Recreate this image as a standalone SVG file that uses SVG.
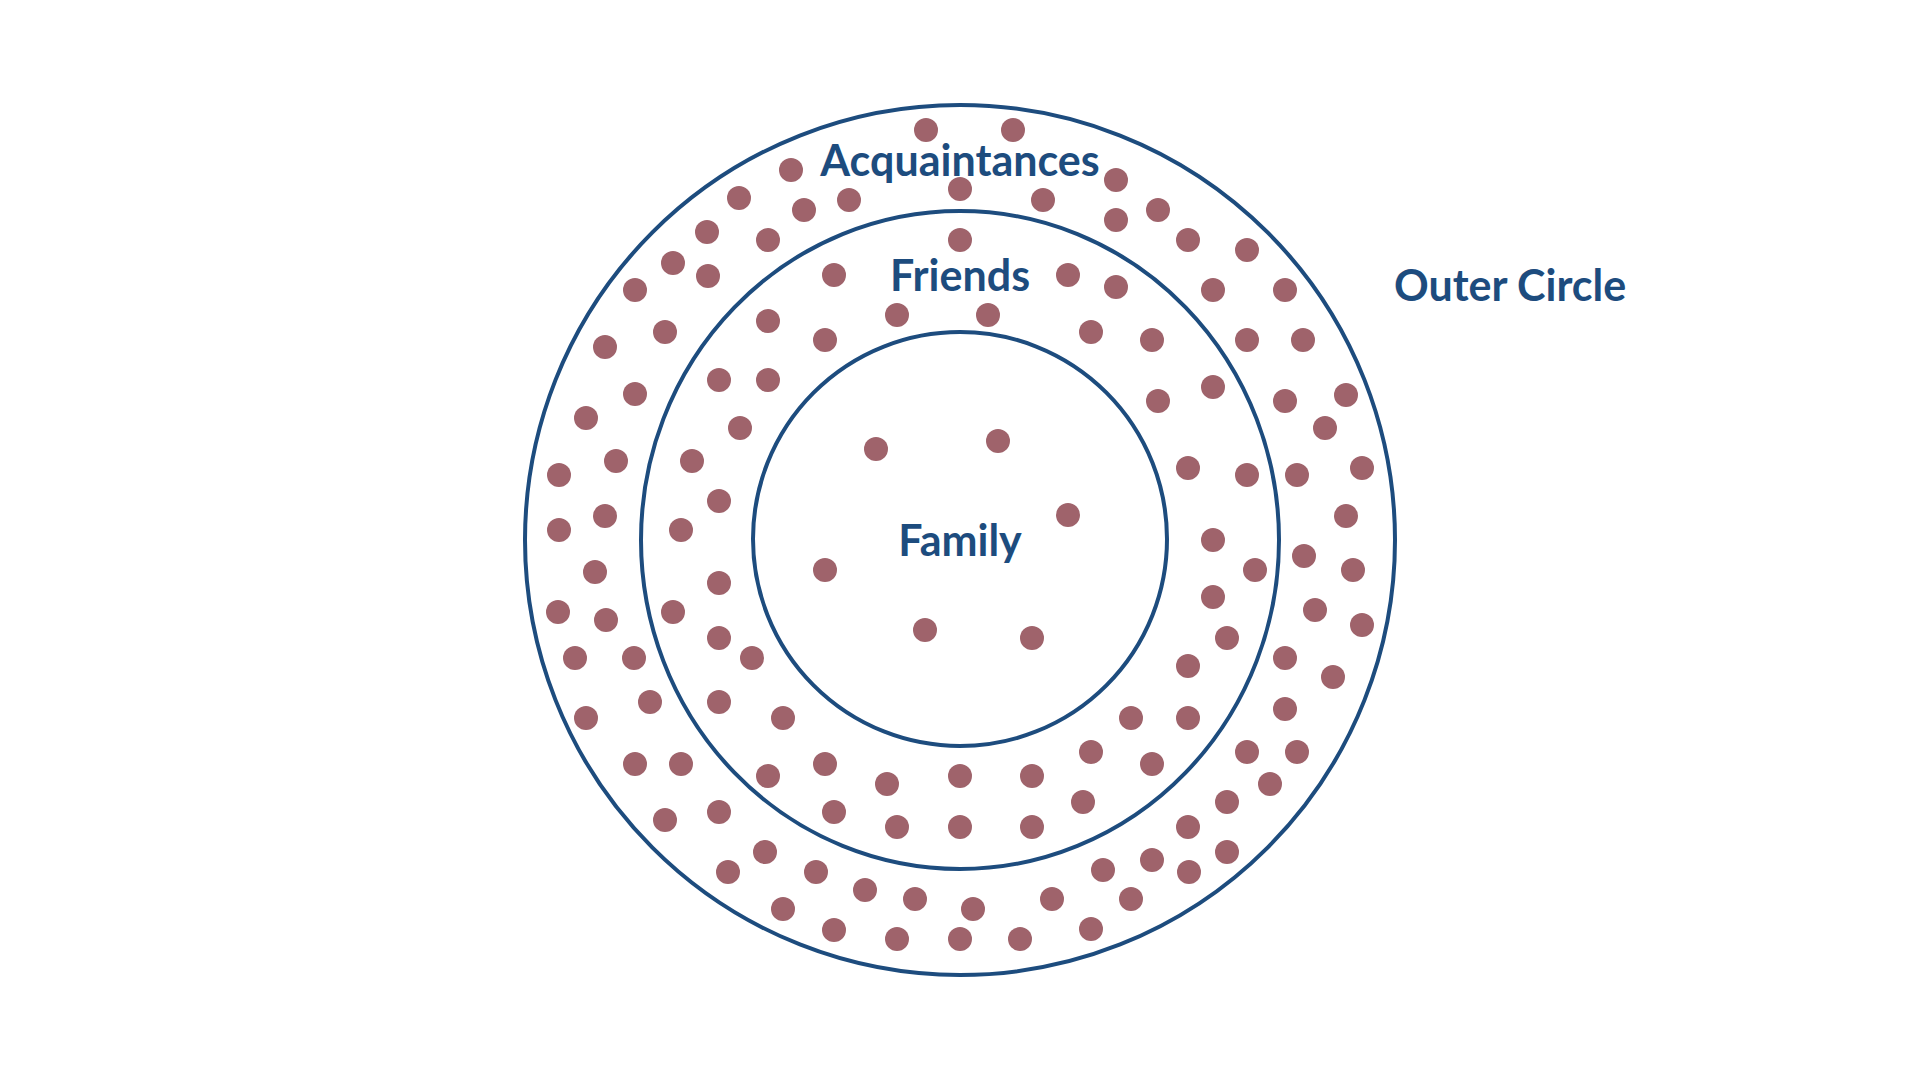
<svg xmlns="http://www.w3.org/2000/svg" width="1920" height="1080" viewBox="0 0 1920 1080">
<style>
.ring{fill:none;stroke:#1d4c7e;stroke-width:4}
.lbl{font-family:Lato,"Open Sans","Liberation Sans",sans-serif;font-weight:700;font-size:43px;fill:#1d4c7e}
.mid{text-anchor:middle}
.d circle{fill:#9f636b}
</style>
<rect width="1920" height="1080" fill="#ffffff"/>
<g id="outer-circle">
<text class="lbl" x="1394" y="301">Outer Circle</text>
</g>
<g id="acquaintances">
<circle class="ring" cx="960" cy="540" r="435"/>
<text class="lbl mid" x="960" y="176">Acquaintances</text>
<g class="d">
<circle cx="791" cy="170" r="12"/><circle cx="739" cy="198" r="12"/><circle cx="804" cy="210" r="12"/><circle cx="707" cy="232" r="12"/>
<circle cx="768" cy="240" r="12"/><circle cx="673" cy="263" r="12"/><circle cx="708" cy="276" r="12"/><circle cx="635" cy="290" r="12"/>
<circle cx="665" cy="332" r="12"/><circle cx="605" cy="347" r="12"/><circle cx="635" cy="394" r="12"/><circle cx="586" cy="418" r="12"/>
<circle cx="616" cy="461" r="12"/><circle cx="559" cy="475" r="12"/><circle cx="605" cy="516" r="12"/><circle cx="559" cy="530" r="12"/>
<circle cx="595" cy="572" r="12"/><circle cx="558" cy="612" r="12"/><circle cx="606" cy="620" r="12"/><circle cx="575" cy="658" r="12"/>
<circle cx="634" cy="658" r="12"/><circle cx="586" cy="718" r="12"/><circle cx="650" cy="702" r="12"/><circle cx="635" cy="764" r="12"/>
<circle cx="681" cy="764" r="12"/><circle cx="665" cy="820" r="12"/><circle cx="719" cy="812" r="12"/><circle cx="765" cy="852" r="12"/>
<circle cx="728" cy="872" r="12"/><circle cx="816" cy="872" r="12"/><circle cx="783" cy="909" r="12"/><circle cx="865" cy="890" r="12"/>
<circle cx="915" cy="899" r="12"/><circle cx="973" cy="909" r="12"/><circle cx="1052" cy="899" r="12"/><circle cx="1103" cy="870" r="12"/>
<circle cx="834" cy="930" r="12"/><circle cx="897" cy="939" r="12"/><circle cx="960" cy="939" r="12"/><circle cx="1020" cy="939" r="12"/>
<circle cx="1091" cy="929" r="12"/><circle cx="1285" cy="709" r="12"/><circle cx="1247" cy="752" r="12"/><circle cx="1297" cy="752" r="12"/>
<circle cx="1270" cy="784" r="12"/><circle cx="1227" cy="802" r="12"/><circle cx="1188" cy="827" r="12"/><circle cx="1152" cy="860" r="12"/>
<circle cx="1189" cy="872" r="12"/><circle cx="1227" cy="852" r="12"/><circle cx="1131" cy="899" r="12"/><circle cx="926" cy="130" r="12"/>
<circle cx="1013" cy="130" r="12"/><circle cx="849" cy="200" r="12"/><circle cx="960" cy="189" r="12"/><circle cx="1043" cy="200" r="12"/>
<circle cx="1116" cy="180" r="12"/><circle cx="1116" cy="220" r="12"/><circle cx="1158" cy="210" r="12"/><circle cx="1188" cy="240" r="12"/>
<circle cx="1247" cy="250" r="12"/><circle cx="1213" cy="290" r="12"/><circle cx="1285" cy="290" r="12"/><circle cx="1247" cy="340" r="12"/>
<circle cx="1303" cy="340" r="12"/><circle cx="1285" cy="401" r="12"/><circle cx="1346" cy="395" r="12"/><circle cx="1325" cy="428" r="12"/>
<circle cx="1297" cy="475" r="12"/><circle cx="1362" cy="468" r="12"/><circle cx="1346" cy="516" r="12"/><circle cx="1304" cy="556" r="12"/>
<circle cx="1353" cy="570" r="12"/><circle cx="1315" cy="610" r="12"/><circle cx="1362" cy="625" r="12"/><circle cx="1285" cy="658" r="12"/>
<circle cx="1333" cy="677" r="12"/>
</g>
</g>
<g id="friends">
<ellipse class="ring" cx="960" cy="540" rx="319" ry="329"/>
<text class="lbl mid" x="960" y="291">Friends</text>
<g class="d">
<circle cx="768" cy="321" r="12"/><circle cx="719" cy="380" r="12"/><circle cx="768" cy="380" r="12"/><circle cx="740" cy="428" r="12"/>
<circle cx="692" cy="461" r="12"/><circle cx="719" cy="501" r="12"/><circle cx="681" cy="530" r="12"/><circle cx="719" cy="583" r="12"/>
<circle cx="673" cy="612" r="12"/><circle cx="719" cy="638" r="12"/><circle cx="752" cy="658" r="12"/><circle cx="719" cy="702" r="12"/>
<circle cx="783" cy="718" r="12"/><circle cx="768" cy="776" r="12"/><circle cx="825" cy="764" r="12"/><circle cx="887" cy="784" r="12"/>
<circle cx="960" cy="776" r="12"/><circle cx="1032" cy="776" r="12"/><circle cx="1091" cy="752" r="12"/><circle cx="834" cy="812" r="12"/>
<circle cx="897" cy="827" r="12"/><circle cx="960" cy="827" r="12"/><circle cx="1032" cy="827" r="12"/><circle cx="1083" cy="802" r="12"/>
<circle cx="1131" cy="718" r="12"/><circle cx="1188" cy="718" r="12"/><circle cx="1152" cy="764" r="12"/><circle cx="960" cy="240" r="12"/>
<circle cx="834" cy="275" r="12"/><circle cx="1068" cy="275" r="12"/><circle cx="1116" cy="287" r="12"/><circle cx="897" cy="315" r="12"/>
<circle cx="988" cy="315" r="12"/><circle cx="825" cy="340" r="12"/><circle cx="1091" cy="332" r="12"/><circle cx="1152" cy="340" r="12"/>
<circle cx="1213" cy="387" r="12"/><circle cx="1158" cy="401" r="12"/><circle cx="1188" cy="468" r="12"/><circle cx="1247" cy="475" r="12"/>
<circle cx="1213" cy="540" r="12"/><circle cx="1255" cy="570" r="12"/><circle cx="1213" cy="597" r="12"/><circle cx="1227" cy="638" r="12"/>
<circle cx="1188" cy="666" r="12"/>
</g>
</g>
<g id="family">
<circle class="ring" cx="960" cy="539" r="207"/>
<text class="lbl mid" x="960" y="556">Family</text>
<g class="d">
<circle cx="876" cy="449" r="12"/><circle cx="998" cy="441" r="12"/><circle cx="1068" cy="515" r="12"/>
<circle cx="825" cy="570" r="12"/><circle cx="925" cy="630" r="12"/><circle cx="1032" cy="638" r="12"/>
</g>
</g>
</svg>
